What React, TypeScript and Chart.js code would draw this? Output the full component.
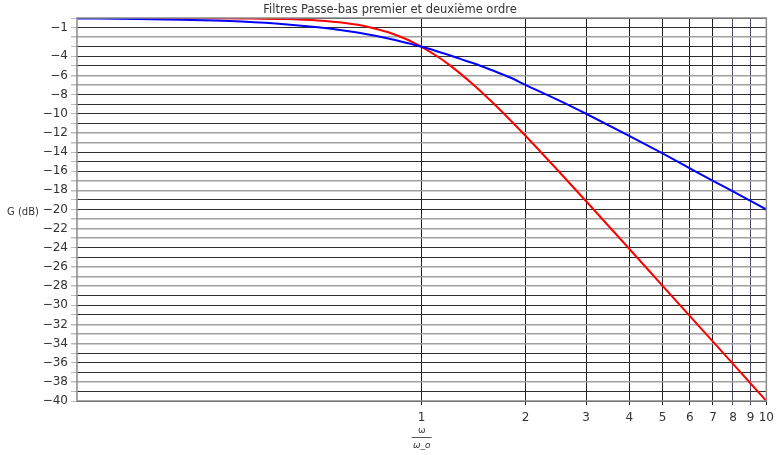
import React, { useEffect, useRef } from "react";
import { Chart, registerables } from "chart.js";

Chart.register(...registerables);

const TITLE = "Filtres Passe-bas premier et deuxième ordre";
const Y_TITLE = "G (dB)";

const omega = [0.1, 0.15, 0.2, 0.25, 0.3, 0.4, 0.5, 0.6, 0.7, 0.8, 0.9, 0.95, 1, 1.1, 1.2, 1.3, 1.4, 1.6, 1.8, 2, 2.5, 3, 4, 5, 6, 7, 8, 9, 10];
const firstOrder = [-0.04, -0.1, -0.17, -0.26, -0.37, -0.64, -0.97, -1.34, -1.73, -2.15, -2.58, -2.79, -3.01, -3.44, -3.87, -4.3, -4.68, -5.46, -6.19, -6.99, -8.6, -10.0, -12.3, -14.15, -15.7, -17.0, -18.1, -19.1, -20.0];
const secondOrder = [0, 0, -0.01, -0.02, -0.04, -0.11, -0.26, -0.53, -0.93, -1.49, -2.19, -2.59, -3.01, -3.92, -4.87, -5.86, -6.85, -8.78, -10.6, -12.3, -16.03, -19.14, -24.1, -27.97, -31.13, -33.8, -36.12, -38.17, -40.0];

const xTicks = [1, 2, 3, 4, 5, 6, 7, 8, 9, 10];
const yGridValues = Array.from({ length: 41 }, (_, i) => -i);
const yLabeled = [-1, -4, -6, -8, -10, -12, -14, -16, -18, -20, -22, -24, -26, -28, -30, -32, -34, -36, -38, -40];
const yLightLines = [-2, -6, -7, -12, -13, -17, -18, -21, -22, -23, -26, -27, -28, -32, -33, -34, -38];

const FONT = "'DejaVu Sans', sans-serif";

const decorPlugin = {
  id: "decor",
  afterDraw(chart: any) {
    const { ctx, chartArea } = chart;
    const xs = chart.scales.x;
    ctx.save();
    ctx.strokeStyle = "#8a8a8a";
    ctx.lineWidth = 1.5;
    ctx.strokeRect(chartArea.left, chartArea.top, chartArea.right - chartArea.left, chartArea.bottom - chartArea.top);
    ctx.fillStyle = "#333";
    ctx.font = `11.5px ${FONT}`;
    ctx.textAlign = "center";
    ctx.textBaseline = "middle";
    ctx.fillText(TITLE, 390, 10);
    ctx.font = `10px ${FONT}`;
    ctx.textAlign = "left";
    ctx.fillText(Y_TITLE, 7, 212);
    const cx = xs.getPixelForValue(1);
    ctx.font = `9px ${FONT}`;
    ctx.textAlign = "center";
    ctx.fillText("ω", cx, 431);
    ctx.strokeStyle = "#555";
    ctx.lineWidth = 1;
    ctx.beginPath();
    ctx.moveTo(cx - 10, 437.5);
    ctx.lineTo(cx + 10, 437.5);
    ctx.stroke();
    ctx.font = `italic 9px ${FONT}`;
    ctx.fillText("ω_o", cx, 446);
    ctx.restore();
  },
};

export default function App() {
  const ref = useRef<HTMLCanvasElement>(null);
  useEffect(() => {
    document.body.style.margin = "0";
    const chart = new Chart(ref.current!, {
      type: "line",
      data: {
        datasets: [
          {
            label: "premier ordre",
            data: omega.map((x, i) => ({ x, y: firstOrder[i] })),
            borderColor: "#0000ff",
            borderWidth: 2,
            pointRadius: 0,
            cubicInterpolationMode: "monotone",
          },
          {
            label: "deuxième ordre",
            data: omega.map((x, i) => ({ x, y: secondOrder[i] })),
            borderColor: "#ff0000",
            borderWidth: 2,
            pointRadius: 0,
            cubicInterpolationMode: "monotone",
          },
        ],
      },
      options: {
        animation: false,
        responsive: false,
        layout: { padding: { left: 0, top: 18, right: 11, bottom: 0 } },
        plugins: { legend: { display: false }, tooltip: { enabled: false }, title: { display: false } },
        scales: {
          x: {
            type: "logarithmic",
            min: 0.1,
            max: 10,
            afterBuildTicks: (s: any) => {
              s.ticks = xTicks.map((v) => ({ value: v }));
            },
            afterFit: (s: any) => {
              s.height = 54;
            },
            ticks: {
              autoSkip: false,
              maxRotation: 0,
              padding: 6,
              color: "#333",
              font: { family: FONT, size: 12 },
              callback: (v: any) => String(v),
            },
            grid: { color: (c: any) => (c.tick && (c.tick.value === 8 || c.tick.value === 9) ? "#4a4a66" : "#1e1e1e"), lineWidth: 1, tickLength: 4 },
            border: { display: false },
          },
          y: {
            type: "linear",
            min: -40,
            max: 0,
            afterBuildTicks: (s: any) => {
              s.ticks = yGridValues.map((v) => ({ value: v }));
            },
            afterFit: (s: any) => {
              s.width = 77;
            },
            ticks: {
              autoSkip: false,
              padding: 3,
              color: "#333",
              font: { family: FONT, size: 12 },
              callback: (v: any) => (yLabeled.includes(v) ? "−" + String(Math.abs(v)) : ""),
            },
            grid: {
              color: (c: any) => (c.tick && yLightLines.includes(c.tick.value) ? "#a0a0a0" : "#2e2e2e"),
              lineWidth: (c: any) => (c.tick && yLightLines.includes(c.tick.value) ? 1.5 : 1),
              tickColor: "#bbb",
              tickLength: 6,
            },
            border: { display: false },
          },
        },
      },
      plugins: [decorPlugin],
    } as any);
    return () => chart.destroy();
  }, []);
  return (
    <div style={{ width: 780, height: 455, background: "#fff" }}>
      <canvas ref={ref} width={780} height={455} style={{ display: "block" }} />
    </div>
  );
}
